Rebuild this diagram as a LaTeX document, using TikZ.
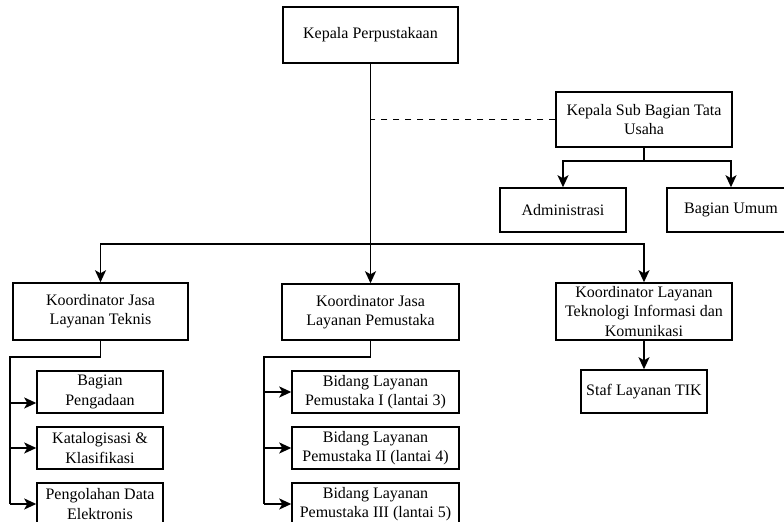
\documentclass[tikz,border=0pt]{standalone}
\usepackage{fontspec}
\setmainfont{Liberation Serif}
\usetikzlibrary{arrows.meta,calc}
\tikzset{
	box/.style={draw,line width=0.75pt,align=center,inner sep=1pt,font=\fontsize{8}{9.6}\selectfont},
	arr/.style={-{Stealth[length=6pt,width=5.5pt,inset=1.5pt]},line width=0.75pt},
	lin/.style={line width=0.75pt}
}
\begin{document}
\begin{tikzpicture}[x=0.5pt,y=-0.5pt]
	\useasboundingbox (0,0) rectangle (784,522);
	\clip (0,0) rectangle (784,522);
	\node[box,minimum width=87.5pt,minimum height=28pt] (kepala) at (370.5,35) {Kepala Perpustakaan};
	\node[box,minimum width=88pt,minimum height=27.5pt] (ksb) at (644,119.5) {Kepala Sub Bagian Tata\\Usaha};
	\node[box,minimum width=63pt,minimum height=22pt] (adm) at (563,210) {Administrasi};
	\node[box,minimum width=64pt,minimum height=22pt] (umum) at (731,210) {Bagian Umum};
	\node[box,minimum width=87.5pt,minimum height=28.5pt] (kt) at (100.5,311.5) {Koordinator Jasa\\Layanan Teknis};
	\node[box,minimum width=88.5pt,minimum height=28pt] (kp) at (370.5,312) {Koordinator Jasa\\Layanan Pemustaka};
	\node[box,minimum width=88pt,minimum height=28.5pt] (ktik) at (644,311.5) {Koordinator Layanan\\Teknologi Informasi dan\\Komunikasi};
	\node[box,minimum width=63pt,minimum height=21pt] (t1) at (100,392) {Bagian\\Pengadaan};
	\node[box,minimum width=63pt,minimum height=21pt] (t2) at (100,448) {Katalogisasi \&\\Klasifikasi};
	\node[box,minimum width=63pt,minimum height=21pt] (t3) at (100,504) {Pengolahan Data\\Elektronis};
	\node[box,minimum width=83.5pt,minimum height=21pt] (p1) at (375.5,392) {Bidang Layanan\\Pemustaka I (lantai 3)};
	\node[box,minimum width=83.5pt,minimum height=21pt] (p2) at (375.5,448) {Bidang Layanan\\Pemustaka II (lantai 4)};
	\node[box,minimum width=83.5pt,minimum height=21pt] (p3) at (375.5,504) {Bidang Layanan\\Pemustaka III (lantai 5)};
	\node[box,minimum width=63pt,minimum height=21.5pt] (staf) at (644,391.5) {Staf Layanan TIK};
	\coordinate (bus) at (370.5,244);
	\coordinate (ksbj) at (644,161);
	\coordinate (tbus) at (10,357);
	\coordinate (pbus) at (264,357);
	\draw[arr] (kepala) -- (kp);
	\draw[arr] (bus) -| (kt);
	\draw[arr] (bus) -| (ktik);
	\draw[lin,dashed] (ksb.west) -- (ksb.west -| kepala.south);
	\draw[lin] (ksb) -- (ksbj);
	\draw[arr] (ksbj) -| (adm);
	\draw[arr] (ksbj) -| (umum);
	\draw[lin] (kt) |- (tbus) -- (tbus |- t3);
	\draw[arr] ($(tbus |- t1)+(0,11)$) -- ($(t1.west)+(0,11)$);
	\draw[arr] (tbus |- t2) -- (t2);
	\draw[arr] (tbus |- t3) -- (t3);
	\draw[lin] (kp) |- (pbus) -- (pbus |- p3);
	\draw[arr] (pbus |- p1) -- (p1);
	\draw[arr] (pbus |- p2) -- (p2);
	\draw[arr] (pbus |- p3) -- (p3);
	\draw[arr] (ktik) -- (staf);
\end{tikzpicture}
\end{document}
